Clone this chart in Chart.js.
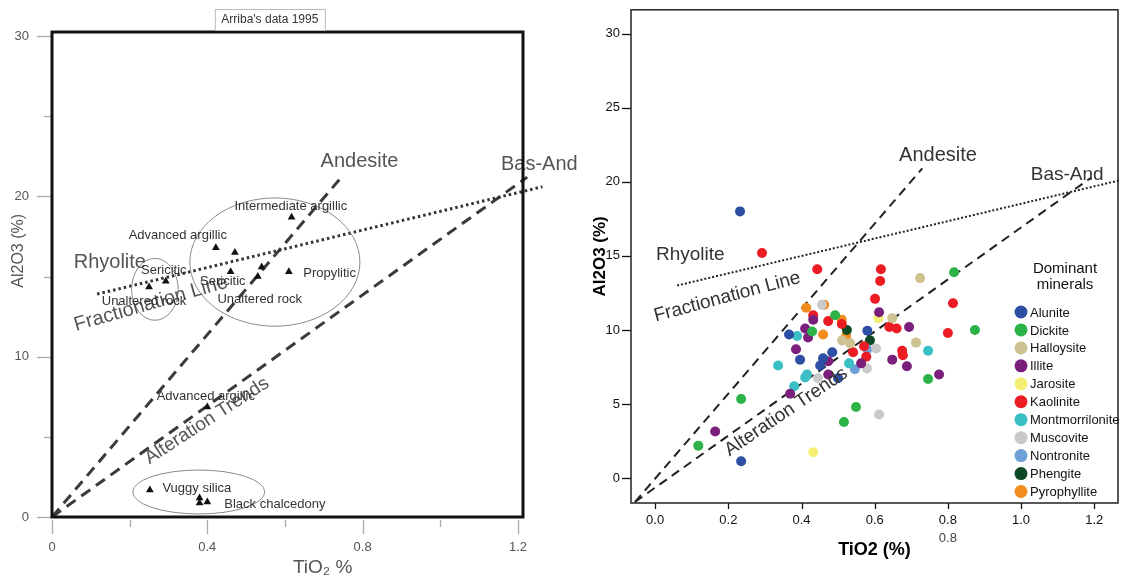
<!DOCTYPE html>
<html>
<head>
<meta charset="utf-8">
<script src="https://cdn.jsdelivr.net/npm/chart.js@4/dist/chart.umd.min.js"></script>
<style>
    body { margin: 0; background: #fff; }
    #wrap { position: relative; width: 1123px; height: 585px; }
    #leftChart { position: absolute; left: 0; top: 0; }
    #rightChart { position: absolute; left: 590px; top: 0; }
</style>
</head>
<body>
<div id="wrap">
    <canvas id="leftChart" width="590" height="585"></canvas>
    <canvas id="rightChart" width="533" height="585"></canvas>
</div>
<script>
// ---- left panel: Arriba's data 1995 ----
const arribaTiO2 = [0.617, 0.422, 0.471, 0.46, 0.54, 0.53, 0.61, 0.25, 0.293, 0.40, 0.252, 0.38, 0.38, 0.40];
const arribaAl2O3 = [18.7, 16.8, 16.5, 15.3, 15.6, 15.0, 15.3, 14.35, 14.7, 6.86, 1.68, 1.18, 0.87, 0.93];

const leftFractionX = [0.116, 1.263];
const leftFractionY = [13.9, 20.6];
const leftAndesiteX = [0, 0.749];
const leftAndesiteY = [0, 21.3];
const leftBasAndX = [0, 1.224];
const leftBasAndY = [0, 21.2];

const leftXMajor = [0, 0.4, 0.8, 1.2];
const leftXMinor = [0.2, 0.6, 1.0];
const leftYMajor = [0, 10, 20, 30];
const leftYMinor = [5, 15, 25];

// ---- right panel: dominant minerals ----
const minerals = ['Alunite', 'Dickite', 'Halloysite', 'Illite', 'Jarosite', 'Kaolinite',
    'Montmorrilonite', 'Muscovite', 'Nontronite', 'Phengite', 'Pyrophyllite'];
const mineralColors = ['#2c4fa3', '#2bb34a', '#cdc291', '#7a1f7c', '#f4ef72', '#ec1c24',
    '#39bfc4', '#c9c9c9', '#6e9fd6', '#0d4a24', '#f28c1e'];

const aluniteX = [0.232, 0.235, 0.58, 0.366, 0.484, 0.396, 0.459, 0.451, 0.50];
const aluniteY = [18.0, 1.15, 9.95, 9.7, 8.5, 8.0, 8.1, 7.6, 6.75];
const dickiteX = [0.817, 0.874, 0.746, 0.492, 0.429, 0.549, 0.516, 0.235, 0.118];
const dickiteY = [13.9, 10.0, 6.7, 11.0, 9.9, 4.8, 3.8, 5.35, 2.2];
const halloysiteX = [0.724, 0.648, 0.713, 0.511, 0.533];
const halloysiteY = [13.5, 10.8, 9.15, 9.3, 9.1];
const illiteX = [0.612, 0.694, 0.648, 0.688, 0.563, 0.776, 0.432, 0.41, 0.418, 0.385, 0.473, 0.473, 0.369, 0.164];
const illiteY = [11.2, 10.2, 8.0, 7.55, 7.75, 7.0, 10.7, 10.1, 9.5, 8.7, 7.9, 7.0, 5.7, 3.15];
const jarositeX = [0.61, 0.432];
const jarositeY = [10.8, 1.75];
const kaoliniteX = [0.292, 0.443, 0.617, 0.615, 0.601, 0.814, 0.64, 0.66, 0.80, 0.571, 0.675, 0.677, 0.577, 0.432, 0.473, 0.51, 0.541];
const kaoliniteY = [15.2, 14.1, 14.1, 13.3, 12.1, 11.8, 10.2, 10.1, 9.8, 8.9, 8.6, 8.3, 8.2, 11.0, 10.6, 10.4, 8.5];
const montmorX = [0.746, 0.388, 0.53, 0.336, 0.41, 0.415, 0.38];
const montmorY = [8.6, 9.6, 7.75, 7.6, 6.8, 7.0, 6.2];
const muscoviteX = [0.604, 0.579, 0.612, 0.456, 0.445];
const muscoviteY = [8.75, 7.4, 4.3, 11.7, 6.75];
const nontroniteX = [0.58, 0.546];
const nontroniteY = [8.7, 7.35];
const phengiteX = [0.587, 0.524];
const phengiteY = [9.3, 10.0];
const pyrophylliteX = [0.413, 0.462, 0.51, 0.459, 0.522];
const pyrophylliteY = [11.5, 11.7, 10.7, 9.7, 9.6];

const mineralX = [aluniteX, dickiteX, halloysiteX, illiteX, jarositeX, kaoliniteX,
    montmorX, muscoviteX, nontroniteX, phengiteX, pyrophylliteX];
const mineralY = [aluniteY, dickiteY, halloysiteY, illiteY, jarositeY, kaoliniteY,
    montmorY, muscoviteY, nontroniteY, phengiteY, pyrophylliteY];

const rightFractionX = [0.06, 1.27];
const rightFractionY = [13.0, 20.1];
const rightAndesiteX = [-0.055, 0.73];
const rightAndesiteY = [-1.6, 20.9];
const rightBasAndX = [-0.055, 1.19];
const rightBasAndY = [-1.6, 20.25];

const rightXTicks = [0, 0.2, 0.4, 0.6, 0.8, 1.0, 1.2];
const rightYTicks = [0, 5, 10, 15, 20, 25, 30];

const FONT = "'Liberation Sans', Arial, Helvetica, sans-serif";

function toPoints(xs, ys) {
    return xs.map((x, i) => ({ x: x, y: ys[i] }));
}

function lineSet(xs, ys, color, width, dash) {
    return {
        type: 'scatter',
        data: toPoints(xs, ys),
        showLine: true,
        borderColor: color,
        borderWidth: width,
        borderDash: dash,
        pointRadius: 0,
        clip: false,
        order: 10
    };
}

function drawTicks(ctx, scale, values, len, start, color) {
    ctx.save();
    ctx.strokeStyle = color;
    ctx.lineWidth = 1.3;
    values.forEach(v => {
        const p = Math.round(scale.getPixelForValue(v)) + 0.5;
        ctx.beginPath();
        if (scale.isHorizontal()) {
            ctx.moveTo(p, scale.top + start);
            ctx.lineTo(p, scale.top + start + len);
        } else {
            ctx.moveTo(scale.right - start, p);
            ctx.lineTo(scale.right - start - len, p);
        }
        ctx.stroke();
    });
    ctx.restore();
}

function drawText(chart, a) {
    const ctx = chart.ctx;
    ctx.save();
    ctx.translate(chart.scales.x.getPixelForValue(a.x), chart.scales.y.getPixelForValue(a.y));
    ctx.rotate((a.angle || 0) * Math.PI / 180);
    ctx.font = a.font;
    ctx.fillStyle = a.color;
    ctx.textAlign = 'center';
    ctx.textBaseline = 'middle';
    ctx.fillText(a.text, 0, 0);
    ctx.restore();
}

function drawEllipse(chart, e) {
    const xs = chart.scales.x, ys = chart.scales.y;
    const cx = xs.getPixelForValue(e.x), cy = ys.getPixelForValue(e.y);
    const rx = Math.abs(xs.getPixelForValue(e.x + e.rx) - cx);
    const ry = Math.abs(ys.getPixelForValue(e.y + e.ry) - cy);
    const ctx = chart.ctx;
    ctx.save();
    ctx.strokeStyle = '#8a8a8a';
    ctx.lineWidth = 1;
    ctx.beginPath();
    ctx.ellipse(cx, cy, rx, ry, 0, 0, Math.PI * 2);
    ctx.stroke();
    ctx.restore();
}

// annotations for the left panel (data coordinates)
const bigLeft = '20px ' + FONT;
const smallLeft = '13px ' + FONT;
const leftNotes = [
    { text: 'Andesite', x: 0.792, y: 22.2, font: bigLeft, color: '#555' },
    { text: 'Bas-And', x: 1.255, y: 22.0, font: bigLeft, color: '#555' },
    { text: 'Rhyolite', x: 0.149, y: 15.85, font: bigLeft, color: '#555' },
    { text: 'Fractionation Line', x: 0.255, y: 13.3, angle: -16, font: bigLeft, color: '#555' },
    { text: 'Alteration Trends', x: 0.399, y: 6.0, angle: -33, font: '19px ' + FONT, color: '#555' },
    { text: 'Intermediate argillic', x: 0.615, y: 19.34, font: smallLeft, color: '#333' },
    { text: 'Advanced argillic', x: 0.324, y: 17.59, font: smallLeft, color: '#333' },
    { text: 'Sericitic', x: 0.288, y: 15.41, font: smallLeft, color: '#333' },
    { text: 'Unaltered rock', x: 0.237, y: 13.47, font: smallLeft, color: '#333' },
    { text: 'Sericitic', x: 0.44, y: 14.72, font: smallLeft, color: '#333' },
    { text: 'Unaltered rock', x: 0.535, y: 13.54, font: smallLeft, color: '#333' },
    { text: 'Propylitic', x: 0.715, y: 15.22, font: smallLeft, color: '#333' },
    { text: 'Advanced argillic', x: 0.396, y: 7.49, font: smallLeft, color: '#333' },
    { text: 'Vuggy silica', x: 0.373, y: 1.81, font: smallLeft, color: '#333' },
    { text: 'Black chalcedony', x: 0.574, y: 0.81, font: smallLeft, color: '#333' }
];
const leftEllipses = [
    { x: 0.265, y: 14.2, rx: 0.06, ry: 1.93 },
    { x: 0.574, y: 15.9, rx: 0.219, ry: 4.0 },
    { x: 0.378, y: 1.56, rx: 0.17, ry: 1.37 }
];

const bigRight = '19px ' + FONT;
const rightNotes = [
    { text: 'Andesite', x: 0.773, y: 21.8, font: '20px ' + FONT, color: '#333' },
    { text: 'Bas-And', x: 1.126, y: 20.45, font: bigRight, color: '#333' },
    { text: 'Rhyolite', x: 0.096, y: 15.1, font: bigRight, color: '#333' },
    { text: 'Fractionation Line', x: 0.197, y: 12.23, angle: -15, font: bigRight, color: '#333' },
    { text: 'Alteration Trends', x: 0.358, y: 4.48, angle: -34, font: bigRight, color: '#333' }
];

const leftOverlay = {
    id: 'leftOverlay',
    afterDatasetsDraw(chart) {
        leftEllipses.forEach(e => drawEllipse(chart, e));
        leftNotes.forEach(a => drawText(chart, a));
    },
    afterDraw(chart) {
        const ctx = chart.ctx;
        const area = chart.chartArea;
        const xs = chart.scales.x, ys = chart.scales.y;
        drawTicks(ctx, xs, leftXMajor, 14, 3, '#aaa');
        drawTicks(ctx, xs, leftXMinor, 7, 3, '#aaa');
        drawTicks(ctx, ys, leftYMajor, 15, 0, '#aaa');
        drawTicks(ctx, ys, leftYMinor, 8, 0, '#aaa');

        ctx.save();
        ctx.strokeStyle = '#111';
        ctx.lineWidth = 3;
        ctx.strokeRect(area.left, area.top, area.right - area.left, area.bottom - area.top);

        // title box
        const cx = xs.getPixelForValue(0.561);
        ctx.fillStyle = '#fff';
        ctx.fillRect(cx - 55, area.top - 22, 110, 20);
        ctx.strokeStyle = '#bbb';
        ctx.lineWidth = 1;
        ctx.strokeRect(cx - 55 + 0.5, area.top - 22.5, 110, 21);
        ctx.fillStyle = '#333';
        ctx.font = '12px ' + FONT;
        ctx.textAlign = 'center';
        ctx.textBaseline = 'middle';
        ctx.fillText("Arriba's data 1995", cx, area.top - 12);

        // axis titles
        ctx.fillStyle = '#555';
        ctx.font = '19px ' + FONT;
        ctx.fillText('TiO\u2082 %', xs.getPixelForValue(0.697), area.bottom + 51);
        ctx.translate(19, ys.getPixelForValue(16.6));
        ctx.rotate(-Math.PI / 2);
        ctx.font = '16px ' + FONT;
        ctx.fillText('Al2O3 (%)', 0, 0);
        ctx.restore();
    }
};

const rightOverlay = {
    id: 'rightOverlay',
    afterDatasetsDraw(chart) {
        rightNotes.forEach(a => drawText(chart, a));
    },
    afterDraw(chart) {
        const ctx = chart.ctx;
        const area = chart.chartArea;
        const xs = chart.scales.x, ys = chart.scales.y;
        drawTicks(ctx, xs, rightXTicks, 6, 0, '#111');
        drawTicks(ctx, ys, rightYTicks, 9, 0, '#111');

        ctx.save();
        ctx.strokeStyle = '#222';
        ctx.lineWidth = 1.5;
        ctx.strokeRect(area.left, area.top, area.right - area.left, area.bottom - area.top);

        // stray label under the axis
        ctx.fillStyle = '#444';
        ctx.font = '13px ' + FONT;
        ctx.textAlign = 'center';
        ctx.textBaseline = 'middle';
        ctx.fillText('0.8', xs.getPixelForValue(0.8), area.bottom + 35);

        // legend
        const lx = area.right - 97;
        ctx.fillStyle = '#111';
        ctx.font = '15px ' + FONT;
        ctx.fillText('Dominant', lx + 44, 269);
        ctx.fillText('minerals', lx + 44, 285);
        ctx.textAlign = 'left';
        ctx.font = '13px ' + FONT;
        minerals.forEach((m, i) => {
            const yy = 312 + i * 17.95;
            ctx.fillStyle = mineralColors[i];
            ctx.beginPath();
            ctx.arc(lx, yy, 6.5, 0, Math.PI * 2);
            ctx.fill();
            ctx.fillStyle = '#111';
            ctx.fillText(m, lx + 9, yy + 1);
        });
        ctx.restore();
    }
};

new Chart(document.getElementById('leftChart'), {
    type: 'scatter',
    data: {
        datasets: [
            {
                label: "Arriba's data 1995",
                data: toPoints(arribaTiO2, arribaAl2O3),
                pointStyle: 'triangle',
                pointRadius: 4.5,
                backgroundColor: '#111',
                borderColor: '#111',
                borderWidth: 0,
                order: 0
            },
            lineSet(leftFractionX, leftFractionY, '#333', 3, [2.5, 3]),
            lineSet(leftAndesiteX, leftAndesiteY, '#3a3a3a', 3, [11, 7]),
            lineSet(leftBasAndX, leftBasAndY, '#3a3a3a', 3, [11, 7])
        ]
    },
    options: {
        responsive: false,
        animation: false,
        layout: { padding: { top: 32, right: 67, left: 0, bottom: 0 } },
        plugins: { legend: { display: false }, tooltip: { enabled: false } },
        scales: {
            x: {
                type: 'linear',
                min: 0,
                max: 1.213,
                afterFit: s => { s.height = 68; },
                afterBuildTicks: s => { s.ticks = leftXMajor.map(v => ({ value: v })); },
                grid: { drawOnChartArea: false, color: 'transparent', tickLength: 16 },
                border: { display: false },
                ticks: {
                    padding: 7,
                    color: '#555',
                    font: { family: FONT, size: 13 },
                    maxRotation: 0,
                    callback: v => String(v)
                }
            },
            y: {
                type: 'linear',
                min: 0,
                max: 30.25,
                afterFit: s => { s.width = 52; },
                afterBuildTicks: s => { s.ticks = leftYMajor.map(v => ({ value: v })); },
                grid: { drawOnChartArea: false, color: 'transparent', tickLength: 15 },
                border: { display: false },
                ticks: {
                    padding: 8,
                    color: '#555',
                    font: { family: FONT, size: 13 },
                    callback: v => String(v)
                }
            }
        }
    },
    plugins: [leftOverlay]
});

const mineralSets = minerals.map((m, i) => ({
    label: m,
    data: toPoints(mineralX[i], mineralY[i]),
    pointRadius: 5,
    backgroundColor: mineralColors[i],
    borderWidth: 0,
    order: 0
}));

new Chart(document.getElementById('rightChart'), {
    type: 'scatter',
    data: {
        datasets: mineralSets.concat([
            lineSet(rightFractionX, rightFractionY, '#222', 2, [2, 2]),
            lineSet(rightAndesiteX, rightAndesiteY, '#222', 2, [9, 6]),
            lineSet(rightBasAndX, rightBasAndY, '#222', 2, [9, 6])
        ])
    },
    options: {
        responsive: false,
        animation: false,
        layout: { padding: { top: 5, right: 5, left: 0, bottom: 0 } },
        plugins: { legend: { display: false }, tooltip: { enabled: false } },
        scales: {
            x: {
                type: 'linear',
                min: -0.066,
                max: 1.265,
                afterFit: s => { s.height = 82; },
                afterBuildTicks: s => { s.ticks = rightXTicks.map(v => ({ value: v })); },
                grid: { drawOnChartArea: false, color: 'transparent', tickLength: 6 },
                border: { display: false },
                ticks: {
                    padding: 4,
                    color: '#111',
                    font: { family: FONT, size: 13 },
                    maxRotation: 0,
                    callback: v => v.toFixed(1)
                },
                title: {
                    display: true,
                    text: 'TiO2 (%)',
                    color: '#000',
                    font: { family: FONT, size: 18, weight: 'bold' },
                    padding: { top: 0, bottom: 24 }
                }
            },
            y: {
                type: 'linear',
                min: -1.67,
                max: 31.6,
                afterFit: s => { s.width = 41; },
                afterBuildTicks: s => { s.ticks = rightYTicks.map(v => ({ value: v })); },
                grid: { drawOnChartArea: false, color: 'transparent', tickLength: 9 },
                border: { display: false },
                ticks: {
                    padding: 2,
                    color: '#111',
                    font: { family: FONT, size: 13 },
                    callback: v => String(v)
                },
                title: {
                    display: true,
                    text: 'Al2O3 (%)',
                    color: '#000',
                    font: { family: FONT, size: 17, weight: 'bold' },
                    padding: { top: 0, bottom: 0 }
                }
            }
        }
    },
    plugins: [rightOverlay]
});
</script>
</body>
</html>
